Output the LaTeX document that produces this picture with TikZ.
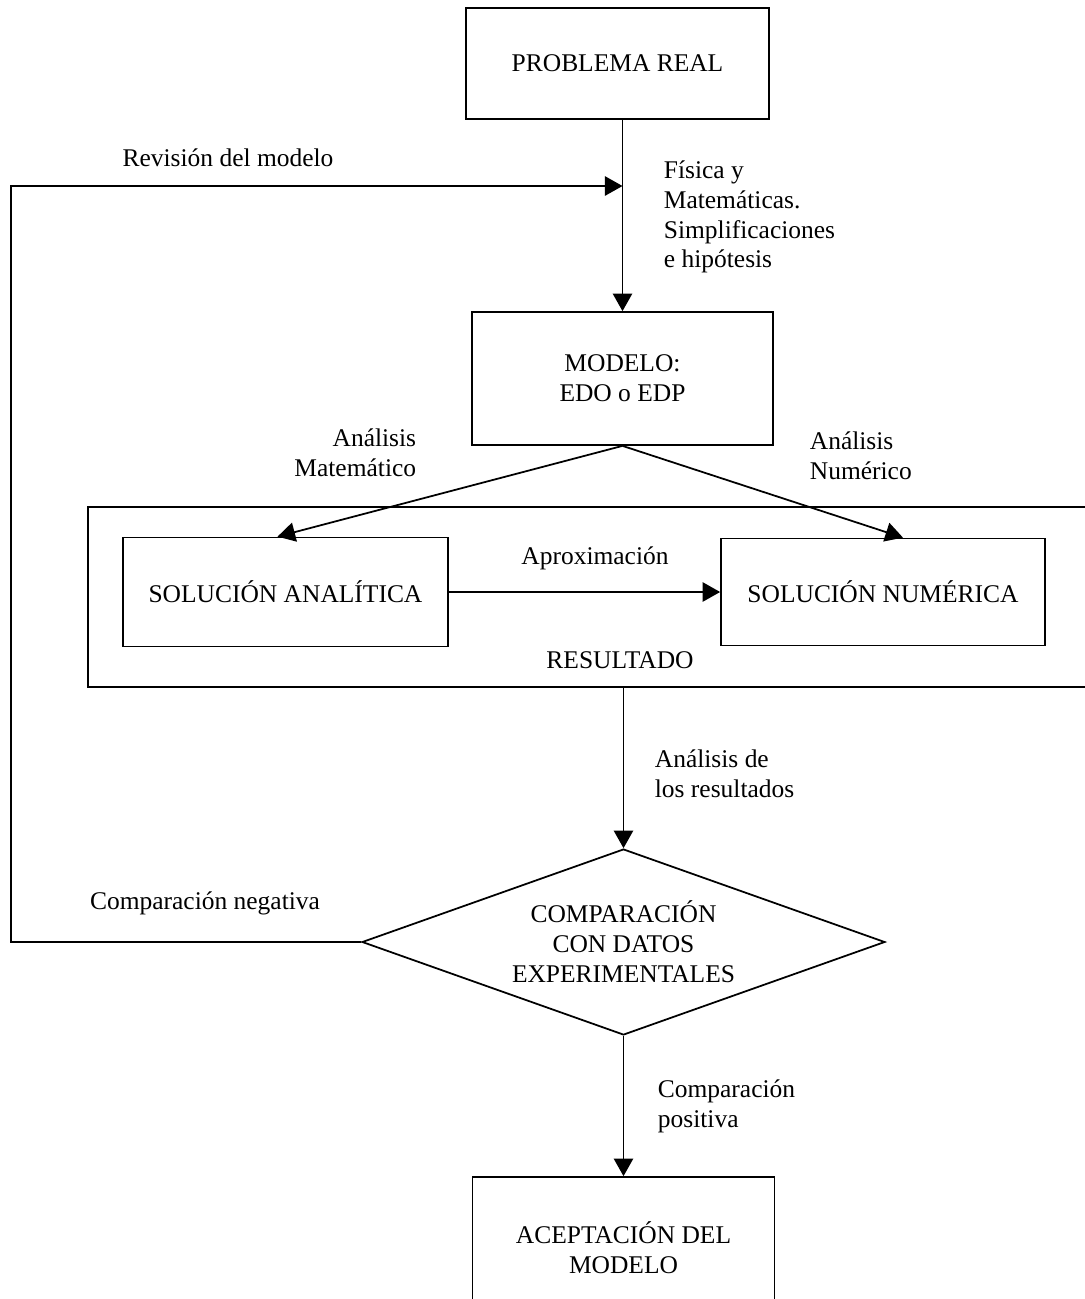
\documentclass[tikz,border=0pt]{standalone}
\usepackage{fontspec}
\setmainfont{Liberation Serif}
\usetikzlibrary{arrows.meta,shapes.geometric}

\begin{document}
\begin{tikzpicture}[x=0.02cm,y=-0.02cm,->,>={Triangle[length=10pt,width=11pt]},
                    line width=1pt,font=\fontsize{14.5}{17}\selectfont,
                    caja/.style={draw,rectangle,align=center,inner sep=0pt},
                    rombo/.style={draw,diamond,aspect=2.8,align=center,inner sep=0pt},
                    texto/.style={inner sep=0pt}]
	\useasboundingbox (0,0) rectangle (1085,1299);
	\node[caja,minimum width=6.06cm,minimum height=2.22cm]		(real)		at (617.5,63.5)		{PROBLEMA REAL};
	\node[caja,minimum width=6.02cm,minimum height=2.66cm]		(modelo)	at (622.5,378.5)	{MODELO:\\EDO o EDP};
	\node[caja,minimum width=20.44cm,minimum height=3.6cm]		(res)		at (599,597)		{};
	\node[caja,minimum width=6.5cm,minimum height=2.18cm]		(anal)		at (285.5,592)		{SOLUCIÓN ANALÍTICA};
	\node[caja,minimum width=6.48cm,minimum height=2.14cm]		(num)		at (883,592)		{SOLUCIÓN NUMÉRICA};
	\node[rombo,minimum width=10.46cm,minimum height=3.72cm]		(comp)		at (623.5,942)		{COMPARACIÓN\\CON DATOS\\EXPERIMENTALES};
	\node[caja,minimum width=6.04cm,minimum height=2.82cm]		(acep)		at (623.5,1247.5)	{ACEPTACIÓN DEL\\MODELO};
	\coordinate	(vuelta)	at (11,186);

	\node[texto]						(revis)	at (228,158)	{Revisión del modelo};
	\node[texto,anchor=west,align=left]	(fis)	at (663,217)	{Física y\\Matemáticas.\\Simplificaciones\\e hipótesis};
	\node[texto,anchor=east,align=right]	(amat)	at (417,453)	{Análisis\\Matemático};
	\node[texto,anchor=west,align=left]	(anum)	at (809,456)	{Análisis\\Numérico};
	\node[texto]						(aprox)	at (595,558)	{Aproximación};
	\node[texto]						(resl)	at (620,660)	{RESULTADO};
	\node[texto,anchor=west,align=left]	(anres)	at (654,774)	{Análisis de\\los resultados};
	\node[texto]						(cneg)	at (205,903)	{Comparación negativa};
	\node[texto,anchor=west,align=left]	(cpos)	at (657,1106)	{Comparación\\positiva};

	\path[->]	(modelo.north |- real.south)	edge	(modelo.north)
			(modelo.south)				edge	([xshift=-0.16cm]anal.north)
			(modelo.south)				edge	([xshift=0.4cm]num.north)
			(anal.east)					edge	(num.west)
			(comp.north |- res.south)		edge	(comp.north)
			(comp.south)					edge	(acep.north);
	\draw[->]	(comp.west) -| (vuelta) -- (modelo.north |- vuelta);

\end{tikzpicture}
\end{document}
